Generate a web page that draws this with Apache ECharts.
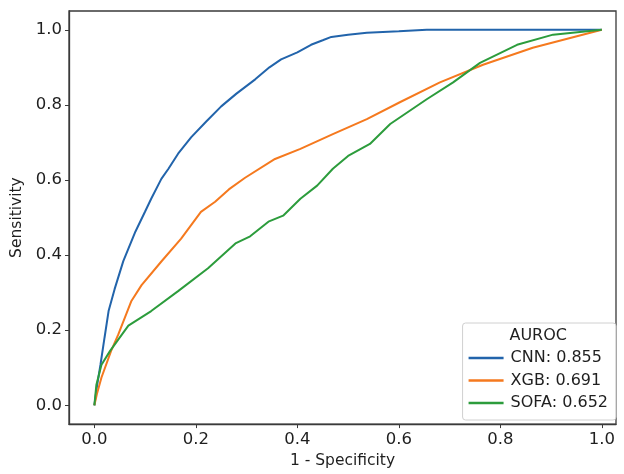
<!DOCTYPE html>
<html>
<head>
<meta charset="utf-8">
<script src="https://cdn.jsdelivr.net/npm/echarts@6/dist/echarts.min.js"></script>
<style>html,body{margin:0;padding:0;background:#fff}#c{width:624px;height:474px}</style>
</head>
<body>
<div id="c"></div>
<script>
// ---- data ----
const cnnFpr = [0, 0.005, 0.012, 0.02, 0.028, 0.04, 0.057, 0.081, 0.1, 0.112, 0.132, 0.146, 0.165, 0.191, 0.22, 0.25, 0.28, 0.317, 0.345, 0.368, 0.4, 0.427, 0.45, 0.467, 0.5, 0.537, 0.6, 0.655, 0.8, 1.0];
const cnnTpr = [0, 0.05, 0.108, 0.18, 0.251, 0.31, 0.384, 0.463, 0.516, 0.55, 0.603, 0.63, 0.67, 0.714, 0.755, 0.796, 0.83, 0.868, 0.9, 0.921, 0.94, 0.96, 0.972, 0.981, 0.987, 0.992, 0.996, 1.0, 1.0, 1.0];

const xgbFpr = [0, 0.005, 0.014, 0.033, 0.047, 0.073, 0.093, 0.132, 0.171, 0.21, 0.238, 0.265, 0.297, 0.356, 0.406, 0.47, 0.537, 0.602, 0.681, 0.766, 0.864, 1.0];
const xgbTpr = [0, 0.03, 0.074, 0.145, 0.188, 0.278, 0.32, 0.383, 0.444, 0.515, 0.542, 0.575, 0.606, 0.656, 0.683, 0.722, 0.762, 0.807, 0.86, 0.907, 0.952, 1.0];

const sofaFpr = [0, 0.004, 0.014, 0.031, 0.047, 0.067, 0.112, 0.165, 0.224, 0.278, 0.307, 0.343, 0.372, 0.406, 0.439, 0.47, 0.5, 0.543, 0.583, 0.655, 0.707, 0.76, 0.833, 0.904, 1.0];
const sofaTpr = [0, 0.055, 0.108, 0.145, 0.175, 0.212, 0.251, 0.304, 0.365, 0.431, 0.45, 0.489, 0.505, 0.55, 0.585, 0.63, 0.664, 0.696, 0.749, 0.815, 0.86, 0.912, 0.96, 0.987, 1.0];

const seriesNames = ['CNN: 0.855', 'XGB: 0.691', 'SOFA: 0.652'];
const seriesColors = ['#2264ab', '#f5791e', '#2c9c3c'];
const tickValues = [0, 0.2, 0.4, 0.6, 0.8, 1.0];
const legendTitle = 'AUROC';
const xName = '1 - Specificity';
const yName = 'Sensitivity';

const zip = (a, b) => a.map((v, i) => [v, b[i]]);
const curves = [zip(cnnFpr, cnnTpr), zip(xgbFpr, xgbTpr), zip(sofaFpr, sofaTpr)];

const FONT = 'DejaVu Sans';
const TXT = '#1f1f1f';
const chart = echarts.init(document.getElementById('c'), null, {renderer: 'canvas'});
chart.setOption({
  backgroundColor: '#ffffff',
  animation: false,
  textStyle: {fontFamily: FONT},
  grid: {left: 69, right: 8, top: 11, bottom: 45, show: true, borderColor: '#3a3a3a', borderWidth: 1.3, backgroundColor: 'transparent'},
  xAxis: {
    type: 'value', min: -0.05, max: 1.028,
    name: xName, nameLocation: 'middle', nameGap: 28,
    nameTextStyle: {fontFamily: FONT, fontSize: 15.5, color: TXT},
    axisLine: {show: true, onZero: false, lineStyle: {color: '#3a3a3a', width: 1.3}},
    axisTick: {show: true, length: 4, customValues: tickValues, lineStyle: {color: '#3a3a3a'}},
    axisLabel: {customValues: tickValues, margin: 7, fontFamily: FONT, fontSize: 16.5, color: TXT, formatter: v => v.toFixed(1)},
    splitLine: {show: false}
  },
  yAxis: {
    type: 'value', min: -0.05, max: 1.05,
    name: yName, nameLocation: 'middle', nameGap: 42,
    nameTextStyle: {fontFamily: FONT, fontSize: 15.5, color: TXT},
    axisLine: {show: true, onZero: false, lineStyle: {color: '#3a3a3a', width: 1.3}},
    axisTick: {show: true, length: 4, customValues: tickValues, lineStyle: {color: '#3a3a3a'}},
    axisLabel: {customValues: tickValues, margin: 7, fontFamily: FONT, fontSize: 16.5, color: TXT, formatter: v => v.toFixed(1)},
    splitLine: {show: false}
  },
  legend: {
    orient: 'vertical', right: 8, bottom: 54,
    padding: [27, 8, 9, 6], itemGap: 6.5, itemWidth: 35, itemHeight: 2.5, icon: 'rect',
    backgroundColor: 'rgba(255,255,255,0.85)', borderColor: '#d0d0d0', borderWidth: 1, borderRadius: 3,
    textStyle: {fontFamily: FONT, fontSize: 16, color: TXT, padding: [0, 0, 0, 2]},
    data: seriesNames
  },
  graphic: [{
    type: 'text', right: 57, bottom: 130, z: 100,
    style: {text: legendTitle, font: '16px "DejaVu Sans"', fill: TXT}
  }],
  series: curves.map((d, i) => ({
    name: seriesNames[i], type: 'line', data: d, symbol: 'none', smooth: false,
    lineStyle: {color: seriesColors[i], width: 2}, itemStyle: {color: seriesColors[i]}
  }))
});
</script>
</body>
</html>
